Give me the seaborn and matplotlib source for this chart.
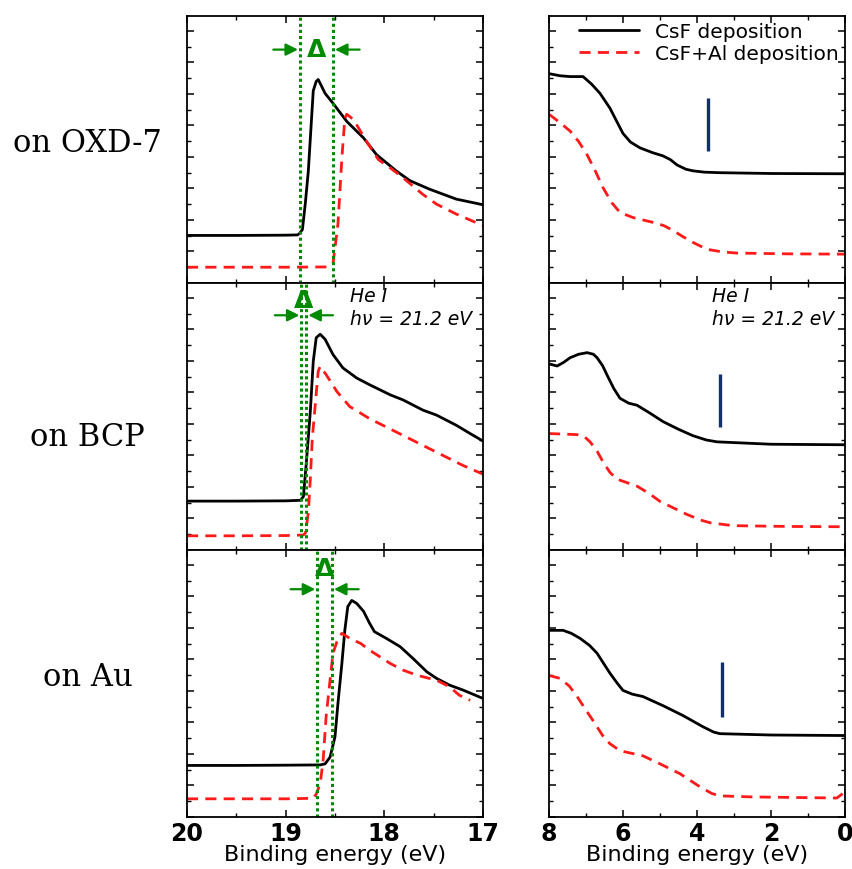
import matplotlib
matplotlib.use("Agg")
import matplotlib.pyplot as plt
from matplotlib.ticker import MultipleLocator, AutoMinorLocator
import seaborn as sns
import pandas as pd

# ---------------- data ----------------
substrates = ["on OXD-7", "on BCP", "on Au"]
legend_labels = ["CsF deposition", "CsF+Al deposition"]

# Secondary-electron cutoff region (binding energy, eV) and normalized intensity
cut_oxd_csf_x = [20.0, 19.5, 19.0, 18.88, 18.86, 18.83, 18.80, 18.77, 18.74, 18.72, 18.69, 18.67,
                 18.64, 18.60, 18.52, 18.38, 18.21, 18.08, 17.88, 17.74, 17.54, 17.27, 17.0]
cut_oxd_csf_y = [0.178, 0.178, 0.179, 0.180, 0.185, 0.20, 0.30, 0.42, 0.60, 0.72, 0.755, 0.762,
                 0.74, 0.71, 0.673, 0.605, 0.543, 0.481, 0.42, 0.383, 0.351, 0.314, 0.293]
cut_oxd_al_x = [20.0, 19.5, 19.0, 18.6, 18.55, 18.52, 18.47, 18.43, 18.40, 18.38, 18.31, 18.18,
                18.06, 17.94, 17.81, 17.61, 17.47, 17.27, 17.0]
cut_oxd_al_y = [0.059, 0.059, 0.059, 0.060, 0.063, 0.072, 0.22, 0.468, 0.617, 0.632, 0.611, 0.53,
                0.462, 0.431, 0.394, 0.332, 0.295, 0.258, 0.215]

cut_bcp_csf_x = [20.0, 19.5, 19.0, 18.85, 18.82, 18.79, 18.75, 18.72, 18.69, 18.65, 18.60, 18.52,
                 18.42, 18.28, 18.15, 17.94, 17.81, 17.61, 17.47, 17.27, 17.13, 17.0]
cut_bcp_csf_y = [0.183, 0.183, 0.184, 0.186, 0.20, 0.328, 0.518, 0.707, 0.795, 0.808, 0.789, 0.732,
                 0.682, 0.644, 0.619, 0.581, 0.562, 0.524, 0.505, 0.467, 0.436, 0.408]
cut_bcp_al_x = [20.0, 19.5, 19.0, 18.82, 18.80, 18.77, 18.75, 18.73, 18.70, 18.67, 18.65, 18.59,
                18.48, 18.35, 18.15, 17.81, 17.47, 17.2, 17.0]
cut_bcp_al_y = [0.053, 0.053, 0.054, 0.056, 0.063, 0.139, 0.265, 0.417, 0.543, 0.669, 0.688, 0.657,
                0.593, 0.537, 0.492, 0.429, 0.366, 0.316, 0.284]

cut_au_csf_x = [20.0, 19.5, 19.0, 18.65, 18.60, 18.55, 18.50, 18.47, 18.43, 18.40, 18.37, 18.33,
                18.28, 18.21, 18.15, 18.10, 17.98, 17.84, 17.71, 17.57, 17.47, 17.34, 17.2, 17.0]
cut_au_csf_y = [0.193, 0.193, 0.194, 0.195, 0.199, 0.224, 0.30, 0.425, 0.575, 0.70, 0.788, 0.811,
                0.80, 0.77, 0.726, 0.694, 0.669, 0.638, 0.594, 0.544, 0.519, 0.494, 0.475, 0.444]
cut_au_al_x = [20.0, 19.5, 19.0, 18.72, 18.69, 18.65, 18.62, 18.59, 18.55, 18.52, 18.48, 18.43,
               18.35, 18.24, 18.15, 17.94, 17.81, 17.67, 17.47, 17.34, 17.24, 17.13]
cut_au_al_y = [0.068, 0.068, 0.068, 0.070, 0.086, 0.124, 0.212, 0.375, 0.512, 0.613, 0.657, 0.688,
               0.669, 0.65, 0.625, 0.575, 0.55, 0.531, 0.512, 0.488, 0.456, 0.437]

# Valence-band region (binding energy, eV) and normalized intensity
vb_oxd_csf_x = [8.0, 7.7, 7.43, 7.08, 6.85, 6.62, 6.35, 6.15, 6.0, 5.8, 5.54, 5.2, 4.92, 4.72,
                4.54, 4.30, 4.11, 3.8, 3.38, 2.0, 0.0]
vb_oxd_csf_y = [0.784, 0.776, 0.773, 0.773, 0.745, 0.710, 0.654, 0.600, 0.560, 0.528, 0.506, 0.488,
                0.476, 0.462, 0.442, 0.426, 0.420, 0.415, 0.413, 0.410, 0.409]
vb_oxd_al_x = [8.0, 7.70, 7.43, 7.2, 6.97, 6.75, 6.54, 6.3, 6.08, 5.73, 5.19, 4.9, 4.65, 4.4,
               4.11, 3.73, 3.3, 2.92, 1.5, 0.0]
vb_oxd_al_y = [0.632, 0.600, 0.569, 0.530, 0.480, 0.420, 0.357, 0.300, 0.264, 0.245, 0.227, 0.215,
               0.197, 0.175, 0.152, 0.126, 0.116, 0.112, 0.109, 0.108]

vb_bcp_csf_x = [8.0, 7.78, 7.6, 7.43, 7.2, 6.97, 6.80, 6.70, 6.55, 6.43, 6.25, 6.08, 5.85, 5.62,
                5.3, 4.92, 4.5, 4.11, 3.75, 3.46, 2.0, 0.0]
vb_bcp_csf_y = [0.697, 0.689, 0.703, 0.720, 0.733, 0.739, 0.733, 0.720, 0.690, 0.655, 0.605, 0.568,
                0.550, 0.542, 0.515, 0.481, 0.452, 0.428, 0.412, 0.405, 0.396, 0.394]
vb_bcp_al_x = [8.0, 7.24, 7.05, 6.89, 6.70, 6.54, 6.35, 6.16, 5.62, 5.3, 5.0, 4.6, 4.27, 3.9,
               3.65, 3.03, 1.5, 0.0]
vb_bcp_al_y = [0.436, 0.432, 0.425, 0.405, 0.370, 0.330, 0.290, 0.265, 0.239, 0.212, 0.182, 0.155,
               0.133, 0.112, 0.102, 0.091, 0.088, 0.087]

vb_au_csf_x = [8.0, 7.62, 7.4, 7.16, 6.9, 6.70, 6.5, 6.35, 6.15, 6.0, 5.75, 5.46, 4.92, 4.38,
               3.84, 3.55, 3.38, 2.0, 0.0]
vb_au_csf_y = [0.699, 0.699, 0.688, 0.669, 0.642, 0.613, 0.570, 0.538, 0.500, 0.474, 0.460, 0.451,
               0.417, 0.380, 0.338, 0.318, 0.312, 0.307, 0.305]
vb_au_al_x = [8.0, 7.70, 7.45, 7.24, 7.0, 6.81, 6.55, 6.35, 6.08, 5.46, 5.0, 4.46, 3.92, 3.6,
              3.38, 2.49, 0.22, 0.0]
vb_au_al_y = [0.530, 0.519, 0.490, 0.451, 0.400, 0.361, 0.305, 0.274, 0.248, 0.229, 0.199, 0.162,
              0.113, 0.088, 0.079, 0.075, 0.071, 0.094]

# Cutoff positions (eV) bounding the work-function shift
delta_lines = [(18.855, 18.52), (18.84, 18.79), (18.68, 18.53)]
# Valence-band onset markers: energy and vertical extent
vbm_x = [3.70, 3.38, 3.32]
vbm_y = [(0.494, 0.691), (0.462, 0.659), (0.376, 0.579)]

cutoff_sets = [(cut_oxd_csf_x, cut_oxd_csf_y, cut_oxd_al_x, cut_oxd_al_y),
               (cut_bcp_csf_x, cut_bcp_csf_y, cut_bcp_al_x, cut_bcp_al_y),
               (cut_au_csf_x, cut_au_csf_y, cut_au_al_x, cut_au_al_y)]
vb_sets = [(vb_oxd_csf_x, vb_oxd_csf_y, vb_oxd_al_x, vb_oxd_al_y),
           (vb_bcp_csf_x, vb_bcp_csf_y, vb_bcp_al_x, vb_bcp_al_y),
           (vb_au_csf_x, vb_au_csf_y, vb_au_al_x, vb_au_al_y)]

# ---------------- style ----------------
sns.set_theme(style="ticks")
plt.rcParams["font.family"] = ["DejaVu Sans"]
plt.rcParams.update({"text.color": "black", "axes.labelcolor": "black",
                     "xtick.color": "black", "ytick.color": "black"})

GREEN = "#008a00"
RED = "#ff1a1a"
NAVY = "#13306b"

fig = plt.figure(figsize=(8.53, 8.70), dpi=100)
gs_l = fig.add_gridspec(3, 1, left=0.2192, right=0.5662, top=0.9805, bottom=0.0598, hspace=0)
gs_r = fig.add_gridspec(3, 1, left=0.6436, right=0.9906, top=0.9805, bottom=0.0598, hspace=0)
axes_l = [fig.add_subplot(gs_l[i]) for i in range(3)]
axes_r = [fig.add_subplot(gs_r[i]) for i in range(3)]


def draw_pair(ax, xs, ys, xa, ya):
    d1 = pd.DataFrame({"E": xs, "I": ys})
    d2 = pd.DataFrame({"E": xa, "I": ya})
    sns.lineplot(data=d1, x="E", y="I", ax=ax, color="black", lw=2.0, sort=False,
                 estimator=None, label=legend_labels[0])
    sns.lineplot(data=d2, x="E", y="I", ax=ax, color=RED, lw=2.0, sort=False,
                 estimator=None, label=legend_labels[1], dashes=False)
    ax.lines[-1].set_linestyle((0, (4, 2.6)))
    if ax.get_legend() is not None:
        ax.get_legend().remove()


def style_axis(ax, xlim, major, minor, show_labels):
    ax.set_xlim(*xlim)
    ax.set_ylim(0, 1)
    ax.xaxis.set_major_locator(MultipleLocator(major))
    ax.xaxis.set_minor_locator(MultipleLocator(minor))
    ax.yaxis.set_major_locator(MultipleLocator(0.118))
    ax.yaxis.set_minor_locator(AutoMinorLocator(2))
    ax.tick_params(which="both", direction="in", top=True, right=True, colors="black")
    ax.tick_params(which="major", length=5, width=1.1)
    ax.tick_params(which="minor", length=3, width=1.0)
    ax.set_yticklabels([])
    ax.set_ylabel("")
    for s in ax.spines.values():
        s.set_linewidth(1.3)
        s.set_color("black")
    if show_labels:
        ax.tick_params(axis="x", pad=3)
        ax.set_xlabel("Binding energy (eV)", fontsize=16, labelpad=-1)
    else:
        ax.set_xticklabels([])
        ax.set_xlabel("")


for i in range(3):
    axl, axr = axes_l[i], axes_r[i]
    draw_pair(axl, *cutoff_sets[i])
    draw_pair(axr, *vb_sets[i])
    style_axis(axl, (20, 17), 1, 0.5, i == 2)
    style_axis(axr, (8, 0), 2, 1, i == 2)
    if i == 2:
        for lab in axl.get_xticklabels() + axr.get_xticklabels():
            lab.set_fontweight("bold")
            lab.set_fontsize(17)

    # work-function shift markers
    hi, lo = delta_lines[i]
    for xv in (hi, lo):
        axl.axvline(xv, color=GREEN, lw=2.2, ls=(0, (1, 1)))
    arrow_y = [0.874, 0.879, 0.853][i]
    delta_y = [0.878, 0.936, 0.932][i]
    ap = dict(arrowstyle="-|>", color=GREEN, lw=1.6, mutation_scale=18, shrinkA=0, shrinkB=0)
    axl.annotate("", xy=(hi + 0.02, arrow_y), xytext=(hi + 0.27, arrow_y),
                 xycoords=("data", "axes fraction"), textcoords=("data", "axes fraction"),
                 arrowprops=ap)
    axl.annotate("", xy=(lo - 0.02, arrow_y), xytext=(lo - 0.27, arrow_y),
                 xycoords=("data", "axes fraction"), textcoords=("data", "axes fraction"),
                 arrowprops=ap)
    axl.text((hi + lo) / 2, delta_y, "Δ", color=GREEN, fontsize=18, fontweight="bold",
             ha="center", va="center", transform=axl.get_xaxis_transform())

    # valence-band onset marker
    axr.plot([vbm_x[i], vbm_x[i]], list(vbm_y[i]), color=NAVY, lw=2.4, solid_capstyle="butt")

    # substrate label
    fig.text(0.103, [0.8356, 0.4977, 0.2218][i], substrates[i], family="DejaVu Serif",
             fontsize=22, ha="center", va="center", color="black")

# excitation source annotation
for ax in (axes_l[1], axes_r[1]):
    ax.text(0.55, 0.99, "He I\nhν = 21.2 eV", transform=ax.transAxes, fontsize=13.5,
            style="italic", ha="left", va="top", linespacing=1.3, clip_on=False)

# legend
h = axes_r[0].get_lines()[:2]
axes_r[0].legend(h, legend_labels, loc="upper right", frameon=False, fontsize=14.5,
                 handlelength=3.0, borderaxespad=0.1, labelspacing=0.15, handletextpad=0.8,
                 borderpad=0.2)

fig.savefig("out.png", dpi=100)
